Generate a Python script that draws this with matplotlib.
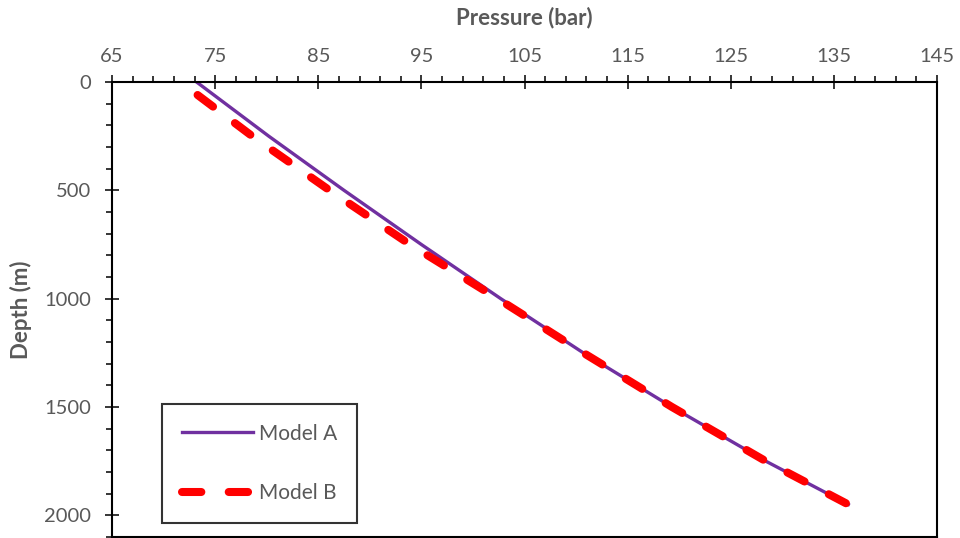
import matplotlib
matplotlib.use("Agg")
import matplotlib.pyplot as plt
import numpy as np

plt.rcParams['font.family'] = ['Lato', 'DejaVu Sans']

# Pressure profiles with depth
depth_a = [0, 250, 500, 750, 1000, 1250, 1500, 1750, 1950]
pressure_a = [73.2, 80.2, 87.5, 95.0, 102.7, 110.7, 119.3, 128.4, 136.4]

depth_b = [60, 250, 500, 750, 1000, 1250, 1500, 1750, 1950]
pressure_b = [73.3, 78.6, 86.1, 93.9, 102.4, 110.7, 119.3, 128.4, 136.4]

series_labels = ["Model A", "Model B"]
x_label = "Pressure (bar)"
y_label = "Depth (m)"
x_ticks = [65, 75, 85, 95, 105, 115, 125, 135, 145]

grey = "#595959"

fig = plt.figure(figsize=(9.6, 5.38), dpi=100)
ax = fig.add_axes([112 / 960, 1 - 537 / 538, (937 - 112) / 960, (537 - 82) / 538])

ax.plot(pressure_a, depth_a, color="#7030A0", lw=2.4, label=series_labels[0], zorder=2)
ax.plot(pressure_b, depth_b, color="#FF0000", lw=5.8, linestyle=(0, (2.4, 3.4)),
        dash_capstyle="round", label=series_labels[1], zorder=3)

ax.set_xlim(65, 145)
ax.set_ylim(2100, 0)

ax.set_xticks(x_ticks)
ax.set_xticks(np.arange(65, 146, 2), minor=True)
ax.set_yticks(np.arange(0, 2001, 500))
ax.set_yticks(np.arange(0, 2101, 100), minor=True)

ax.xaxis.tick_top()
ax.xaxis.set_label_position("top")

for s in ax.spines.values():
    s.set_linewidth(1.5)
    s.set_color("black")

ax.tick_params(which="major", direction="inout", length=10, width=1.1, color="black",
               labelsize=14.5, labelcolor=grey)
ax.tick_params(axis="x", which="major", pad=7.5)
ax.tick_params(axis="y", which="major", pad=10)
ax.tick_params(which="minor", direction="out", length=4.5, width=1.1, color="black")
ax.tick_params(axis="x", which="both", bottom=False, top=True)
ax.tick_params(axis="y", which="both", left=True, right=False)

ax.set_xlabel(x_label, fontsize=16, fontweight="bold", color=grey, labelpad=17)
ax.set_ylabel(y_label, fontsize=16, fontweight="bold", color=grey, labelpad=9)

leg = ax.legend(loc="lower left", bbox_to_anchor=(0.061, 0.031), fontsize=15,
                frameon=True, fancybox=False, handlelength=3.4, handletextpad=0.3,
                labelspacing=1.9, borderpad=0.95, borderaxespad=0)
leg.get_frame().set_edgecolor("black")
leg.get_frame().set_linewidth(1.5)
for t in leg.get_texts():
    t.set_color(grey)

fig.savefig("out.png", dpi=100)
